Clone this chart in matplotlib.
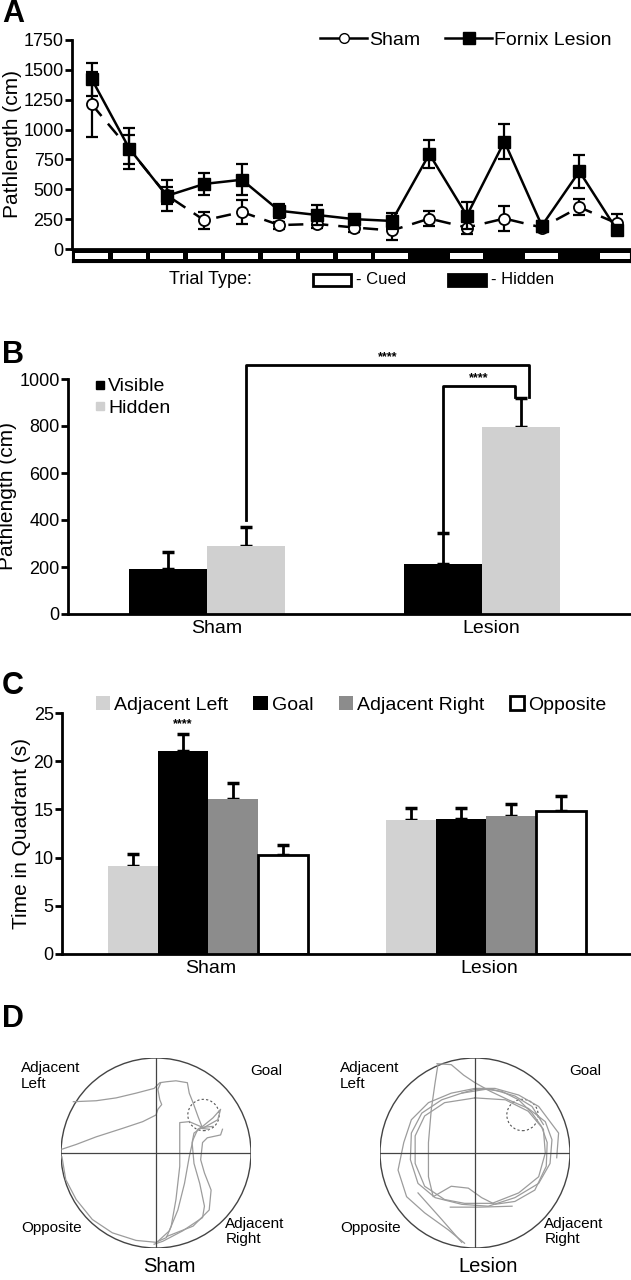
import matplotlib
matplotlib.use("Agg")
import matplotlib.pyplot as plt
import numpy as np
from matplotlib.lines import Line2D
from matplotlib.patches import Rectangle, Circle, Patch

plt.rcParams['font.family'] = ['Liberation Sans', 'DejaVu Sans']

W, H = 631, 1280

# ---- panel A: pathlength per trial
trials = np.arange(1, 16)
trial_hidden = [0, 0, 0, 0, 0, 0, 0, 0, 0, 1, 0, 1, 0, 1, 0]
sham_mean = [1210, 835, 450, 240, 310, 200, 210, 180, 155, 255, 180, 255, 180, 350, 215]
sham_err = [270, 120, 70, 70, 100, 30, 35, 35, 80, 65, 55, 105, 40, 65, 80]
lesion_mean = [1420, 840, 445, 545, 580, 320, 285, 250, 235, 795, 280, 900, 195, 650, 160]
lesion_err = [135, 170, 130, 95, 130, 60, 85, 30, 70, 120, 110, 150, 40, 140, 30]

# ---- panel B: visible vs hidden
groups = ['Sham', 'Lesion']
visible_mean = [190, 212]
visible_err = [75, 133]
hidden_mean = [290, 795]
hidden_err = [82, 125]

# ---- panel C: probe trial quadrant time
quadrants = ['Adjacent Left', 'Goal', 'Adjacent Right', 'Opposite']
quad_colors = ['#d2d2d2', 'black', '#8c8c8c', 'white']
sham_time = [9.1, 21.1, 16.1, 10.3]
sham_time_err = [1.3, 1.7, 1.6, 1.0]
lesion_time = [13.9, 14.0, 14.3, 14.8]
lesion_time_err = [1.2, 1.1, 1.3, 1.6]

# ---- panel D: example swim paths (pool radius = 1)
goal_xy = (0.50, 0.40)
sham_paths = [
    [(-0.87, 0.54), (-0.63, 0.55), (-0.42, 0.58), (-0.21, 0.63), (-0.02, 0.68), (0.04, 0.74),
     (0.11, 0.75), (0.21, 0.76), (0.33, 0.74), (0.35, 0.63), (0.39, 0.53), (0.44, 0.39), (0.49, 0.26)],
    [(-0.99, 0.04), (-0.84, 0.09), (-0.63, 0.17), (-0.35, 0.26), (-0.14, 0.33), (0.0, 0.40),
     (0.02, 0.46), (0.06, 0.51), (0.04, 0.56), (0.02, 0.67), (0.05, 0.74)],
    [(-0.99, -0.04), (-0.95, -0.28), (-0.84, -0.49), (-0.67, -0.70), (-0.46, -0.84), (-0.21, -0.92),
     (0.0, -0.94), (0.11, -0.89), (0.16, -0.77), (0.21, -0.49), (0.25, -0.14), (0.25, 0.21),
     (0.25, 0.32), (0.35, 0.33), (0.49, 0.27), (0.60, 0.28)],
    [(-0.02, -0.96), (0.07, -0.93), (0.28, -0.82), (0.49, -0.68), (0.51, -0.56), (0.46, -0.32),
     (0.40, -0.11), (0.38, 0.11), (0.40, 0.21), (0.47, 0.26), (0.56, 0.25)],
    [(0.11, -0.88), (0.39, -0.77), (0.56, -0.60), (0.58, -0.39), (0.51, -0.21), (0.47, -0.07),
     (0.49, 0.11), (0.54, 0.16), (0.68, 0.19), (0.70, 0.25)],
    [(0.02, -0.93), (0.14, -0.82), (0.23, -0.60), (0.30, -0.32), (0.35, -0.04), (0.39, 0.14),
     (0.44, 0.25), (0.49, 0.28), (0.60, 0.37), (0.68, 0.46), (0.65, 0.35), (0.49, 0.26)],
]
lesion_paths = [
    [(-0.40, 0.94), (-0.25, 0.93), (-0.12, 0.82), (0.0, 0.74), (0.16, 0.65), (0.35, 0.56),
     (0.56, 0.47), (0.74, 0.33), (0.81, 0.14), (0.79, -0.11), (0.67, -0.32), (0.42, -0.47),
     (0.14, -0.56), (-0.14, -0.54), (-0.42, -0.47), (-0.60, -0.32), (-0.68, -0.07), (-0.67, 0.21),
     (-0.56, 0.42), (-0.35, 0.56), (-0.14, 0.63), (0.0, 0.67), (0.18, 0.67), (0.42, 0.60),
     (0.60, 0.49), (0.72, 0.30)],
    [(-0.39, 0.93), (-0.42, 0.74), (-0.46, 0.46), (-0.49, 0.11), (-0.49, -0.25), (-0.44, -0.46),
     (-0.25, -0.35), (-0.07, -0.37), (0.07, -0.47), (0.21, -0.54), (0.42, -0.51), (0.63, -0.39),
     (0.75, -0.14), (0.76, 0.11), (0.70, 0.28), (0.60, 0.42), (0.46, 0.56), (0.28, 0.65),
     (0.11, 0.67), (-0.14, 0.63)],
    [(-0.11, -0.95), (-0.28, -0.81), (-0.53, -0.63), (-0.72, -0.46), (-0.81, -0.18), (-0.75, 0.11),
     (-0.67, 0.35), (-0.49, 0.53), (-0.25, 0.63), (0.0, 0.68), (0.21, 0.68), (0.46, 0.61),
     (0.67, 0.49), (0.88, 0.21), (0.86, -0.05)],
    [(0.0, 0.58), (0.32, 0.56), (0.56, 0.44), (0.72, 0.25), (0.74, 0.0), (0.67, -0.25),
     (0.46, -0.42), (0.18, -0.53), (-0.11, -0.53), (-0.32, -0.49), (-0.53, -0.35), (-0.63, -0.11),
     (-0.63, 0.18), (-0.53, 0.39), (-0.32, 0.53), (0.0, 0.58)],
    [(-0.26, -0.57), (0.05, -0.57), (0.39, -0.56)],
    [(-0.60, -0.42), (-0.35, -0.70), (-0.14, -0.94)],
]

fig = plt.figure(figsize=(W / 100, H / 100), dpi=100)


def px_axes(x0, y0, x1, y1):
    return fig.add_axes([x0 / W, 1 - y1 / H, (x1 - x0) / W, (y1 - y0) / H])


def px_text(x, y, s, **kw):
    return fig.text(x / W, 1 - y / H, s, **kw)


def style_axes(ax):
    for s in ['top', 'right']:
        ax.spines[s].set_visible(False)
    for s in ['left', 'bottom']:
        ax.spines[s].set_linewidth(2)
    ax.tick_params(axis='y', width=2, length=5, labelsize=13, pad=1)
    ax.tick_params(axis='x', length=0, labelsize=14, pad=4)


# ================= A
axA = px_axes(72, 40, 630, 249)
xlo, xhi = 0.47, 15.35
axA.errorbar(trials, sham_mean, yerr=sham_err, fmt='none', ecolor='k',
             elinewidth=1.6, capsize=4, capthick=1.6, zorder=2)
axA.plot(trials, sham_mean, color='k', lw=1.8, ls=(0, (6, 4)), marker='o', ms=8,
         mfc='white', mec='k', mew=1.3, zorder=3)
axA.errorbar(trials, lesion_mean, yerr=lesion_err, fmt='none', ecolor='k',
             elinewidth=1.6, capsize=4, capthick=1.6, zorder=4)
axA.plot(trials, lesion_mean, color='k', lw=1.8, marker='s', ms=8, zorder=5)
axA.set_xlim(xlo, xhi)
axA.set_ylim(0, 1750)
axA.set_yticks(range(0, 1751, 250))
axA.set_xticks([])
style_axes(axA)
axA.set_ylabel('Pathlength (cm)', fontsize=15, labelpad=1)

axT = px_axes(72, 250, 630, 262)
axT.set_facecolor('black')
axT.set_xlim(xlo, xhi)
axT.set_ylim(0, 1)
for t, hid in zip(trials, trial_hidden):
    if not hid:
        axT.add_patch(Rectangle((t - 0.44, 0.24), 0.88, 0.54, fc='white', ec='none'))
axT.set_xticks([])
axT.set_yticks([])

handles_A = [Line2D([], [], color='k', lw=1.8, marker='o', ms=7, mfc='white', mec='k'),
             Line2D([], [], color='k', lw=1.8, marker='s', ms=8)]
fig.legend(handles_A, ['Sham', 'Fornix Lesion'], loc='center', ncol=2,
           bbox_to_anchor=(466 / W, 1 - 40 / H), frameon=False, fontsize=14,
           handlelength=2.4, handletextpad=0.1, columnspacing=1.3)

px_text(169, 279, 'Trial Type:', fontsize=13, va='center', ha='left')
fig.patches.append(Rectangle((313 / W, 1 - 286 / H), 38 / W, 12 / H, fc='white', ec='k',
                             lw=2, transform=fig.transFigure))
px_text(356, 279, '- Cued', fontsize=12, va='center', ha='left')
fig.patches.append(Rectangle((448 / W, 1 - 286 / H), 38 / W, 12 / H, fc='black', ec='k',
                             lw=2, transform=fig.transFigure))
px_text(491, 279, '- Hidden', fontsize=12, va='center', ha='left')

# ================= B
axB = px_axes(68, 379, 631, 614)
gx = np.arange(len(groups))
bw = 0.284
axB.bar(gx - bw / 2, visible_mean, bw, color='black', zorder=2)
axB.bar(gx + bw / 2, hidden_mean, bw, color='#d0d0d0', zorder=2)
axB.errorbar(gx - bw / 2, visible_mean, yerr=[np.zeros(2), visible_err], fmt='none',
             ecolor='k', elinewidth=2, capsize=4, capthick=2.5, zorder=1)
axB.errorbar(gx + bw / 2, hidden_mean, yerr=[np.zeros(2), hidden_err], fmt='none',
             ecolor='k', elinewidth=2, capsize=4, capthick=2.5, zorder=1)
axB.set_xlim(-0.505, 1.542)
axB.set_ylim(0, 1000)
axB.set_yticks(range(0, 1001, 200))
axB.set_xticks(gx + 0.035)
axB.set_xticklabels(groups)
style_axes(axB)
axB.set_ylabel('Pathlength (cm)', fontsize=15, labelpad=2)

# significance brackets
x1 = gx[0] + bw / 2
x2 = gx[1] + bw / 2 + 0.03
y_top = hidden_mean[1] + hidden_err[1] + 5
axB.plot([x1, x1, x2, x2], [hidden_mean[0] + hidden_err[0] + 30, 1060, 1060, y_top],
         color='k', lw=2, clip_on=False)
axB.text((x1 + x2) / 2, 1068, '****', ha='center', va='bottom', fontsize=9, fontweight='bold')
x3 = gx[1] - bw / 2
x4 = gx[1] + bw / 2 - 0.02
axB.plot([x3, x3, x4, x4], [visible_mean[1] + visible_err[1] + 5, 972, 972, y_top],
         color='k', lw=2, clip_on=False)
axB.text((x3 + x4) / 2, 980, '****', ha='center', va='bottom', fontsize=9, fontweight='bold')

handles_B = [Line2D([], [], ls='none', marker='s', ms=6, color='black'),
             Line2D([], [], ls='none', marker='s', ms=6, color='#d0d0d0')]
fig.legend(handles_B, ['Visible', 'Hidden'], loc='upper left',
           bbox_to_anchor=(84 / W, 1 - 368 / H), frameon=False, fontsize=14,
           handlelength=0.6, handletextpad=0.15, labelspacing=0.2, borderpad=0)

# ================= C
axC = px_axes(62, 713, 631, 954)
cw = 0.18
for i, (q, c) in enumerate(zip(quadrants, quad_colors)):
    off = (i - 1.5) * cw
    ec = 'black' if c == 'white' else 'none'
    axC.bar(gx + off, [sham_time[i], lesion_time[i]], cw, color=c, edgecolor=ec,
            linewidth=2, zorder=2)
    axC.errorbar(gx + off, [sham_time[i], lesion_time[i]],
                 yerr=[np.zeros(2), [sham_time_err[i], lesion_time_err[i]]], fmt='none',
                 ecolor='k', elinewidth=2, capsize=4, capthick=2.5, zorder=1)
axC.text(gx[0] - 0.5 * cw, sham_time[1] + sham_time_err[1] + 0.4, '****', ha='center',
         va='bottom', fontsize=9, fontweight='bold')
axC.set_xlim(-0.525, 1.52)
axC.set_ylim(0, 25)
axC.set_yticks(range(0, 26, 5))
axC.set_xticks(gx + 0.01)
axC.set_xticklabels(groups)
style_axes(axC)
axC.set_ylabel('Time in Quadrant (s)', fontsize=15, labelpad=2)

handles_C = [Patch(fc=c, ec='black' if c == 'white' else 'none', lw=2) for c in quad_colors]
fig.legend(handles_C, quadrants, loc='center', ncol=4,
           bbox_to_anchor=(351 / W, 1 - 705 / H), frameon=False, fontsize=14,
           handlelength=0.75, handleheight=0.75, handletextpad=0.2, columnspacing=1.3)

# ================= D
def draw_pool(cx, paths, name):
    ax = px_axes(cx - 95, 1058, cx + 95, 1248)
    ax.set_xlim(-1, 1)
    ax.set_ylim(-1, 1)
    ax.set_aspect('equal')
    ax.axis('off')
    for p in paths:
        p = np.array(p)
        ax.plot(p[:, 0], p[:, 1], color='#9c9c9c', lw=0.9)
    ax.add_patch(Circle((0, 0), 1, fill=False, ec='#444444', lw=1))
    ax.plot([-1, 1], [0, 0], color='#444444', lw=0.9)
    ax.plot([0, 0], [-1, 1], color='#444444', lw=0.9)
    ax.add_patch(Circle(goal_xy, 0.165, fill=False, ec='#555555', lw=0.8, ls=(0, (2, 2))))
    kw = dict(fontsize=11, clip_on=False, linespacing=1.15)
    ax.text(-1.42, 0.97, 'Adjacent\nLeft', ha='left', va='top', **kw)
    ax.text(0.99, 0.86, 'Goal', ha='left', va='center', **kw)
    ax.text(-1.42, -0.79, 'Opposite', ha='left', va='center', **kw)
    ax.text(0.73, -0.67, 'Adjacent\nRight', ha='left', va='top', **kw)
    ax.text(0.14, -1.19, name, ha='center', va='center', fontsize=14.5, clip_on=False)


draw_pool(156, sham_paths, 'Sham')
draw_pool(475, lesion_paths, 'Lesion')

for letter, y in zip('ABCD', [14, 355, 686, 1019]):
    px_text(2, y, letter, fontsize=22, fontweight='bold', va='center', ha='left')

fig.savefig('out.png', dpi=100)
